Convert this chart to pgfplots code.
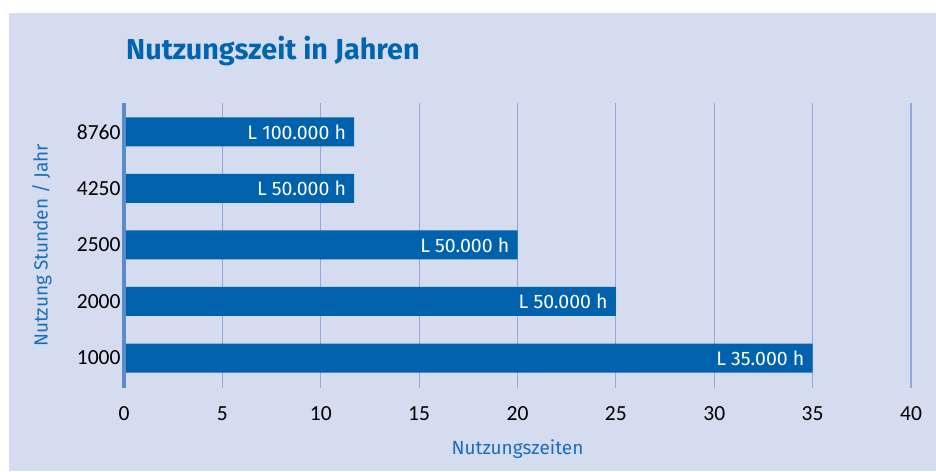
\documentclass[border=0pt]{standalone}
\usepackage{fontspec}
\setmainfont{Fira Sans}
\newfontfamily\tickfont{Carlito}
\usepackage{pgfplots}
\usepackage{pgfplotstable}
\pgfplotsset{compat=1.18}
\definecolor{bgc}{HTML}{D5DCF0}
\definecolor{barc}{HTML}{0062AD}
\definecolor{axc}{HTML}{5B8BCB}
\definecolor{gridc}{HTML}{8FA9DA}
\definecolor{titc}{HTML}{0064B0}
\definecolor{labc}{HTML}{1A6FB8}
\pgfplotstableread[col sep=comma]{
y,val,lab
0,35,L 35.000 h
1,25,L 50.000 h
2,20,L 50.000 h
3,11.7,L 50.000 h
4,11.7,L 100.000 h
}\datatable
\begin{document}
\begin{tikzpicture}
\useasboundingbox (-124pt,-83pt) rectangle (812pt,388pt);
\fill[white] (-124pt,-83pt) rectangle (812pt,388pt);
\fill[bgc] (-115pt,-83pt) rectangle (812pt,375pt);
\begin{axis}[
  at={(0pt,0pt)}, anchor=south west,
  scale only axis, width=787pt, height=285pt,
  xmin=0, xmax=40, ymin=-0.53, ymax=4.51,
  clip=false,
  xbar, bar width=29pt,
  axis line style={draw=none},
  major tick length=0pt,
  xtick={0,5,...,40},
  ytick={0,1,2,3,4},
  yticklabels={1000,2000,2500,4250,8760},
  xmajorgrids, grid style={gridc, line width=1.2pt},
  ymajorgrids=false,
  ticklabel style={font=\tickfont\fontsize{21.5}{24}\selectfont, text=black},
  xticklabel style={yshift=-15pt},
  /pgf/number format/assume math mode=true,
  xlabel={Nutzungszeiten},
  ylabel={Nutzung Stunden / Jahr},
  xlabel style={at={(axis description cs:0.5,0)}, anchor=base, yshift=-66pt, font=\fontsize{19}{22}\selectfont, text=labc},
  ylabel style={at={([xshift=-82pt]axis description cs:0,0.5)}, anchor=center, font=\fontsize{19}{22}\selectfont, text=labc},
  point meta=explicit symbolic,
  nodes near coords,
  nodes near coords style={anchor=east, inner sep=0pt, xshift=-8pt, text=white, font=\fontsize{19.5}{22}\selectfont},
]
\addplot[fill=barc, draw=none] table[x=val, y=y, meta=lab] {\datatable};
\draw[axc, line width=4.5pt] (rel axis cs:0,0) -- (rel axis cs:0,1);
\end{axis}
\node[anchor=base west, inner sep=0pt, text=titc, font=\bfseries\fontsize{28.8}{32}\selectfont] at (2pt,328pt) {Nutzungszeit in Jahren};
\end{tikzpicture}
\end{document}
